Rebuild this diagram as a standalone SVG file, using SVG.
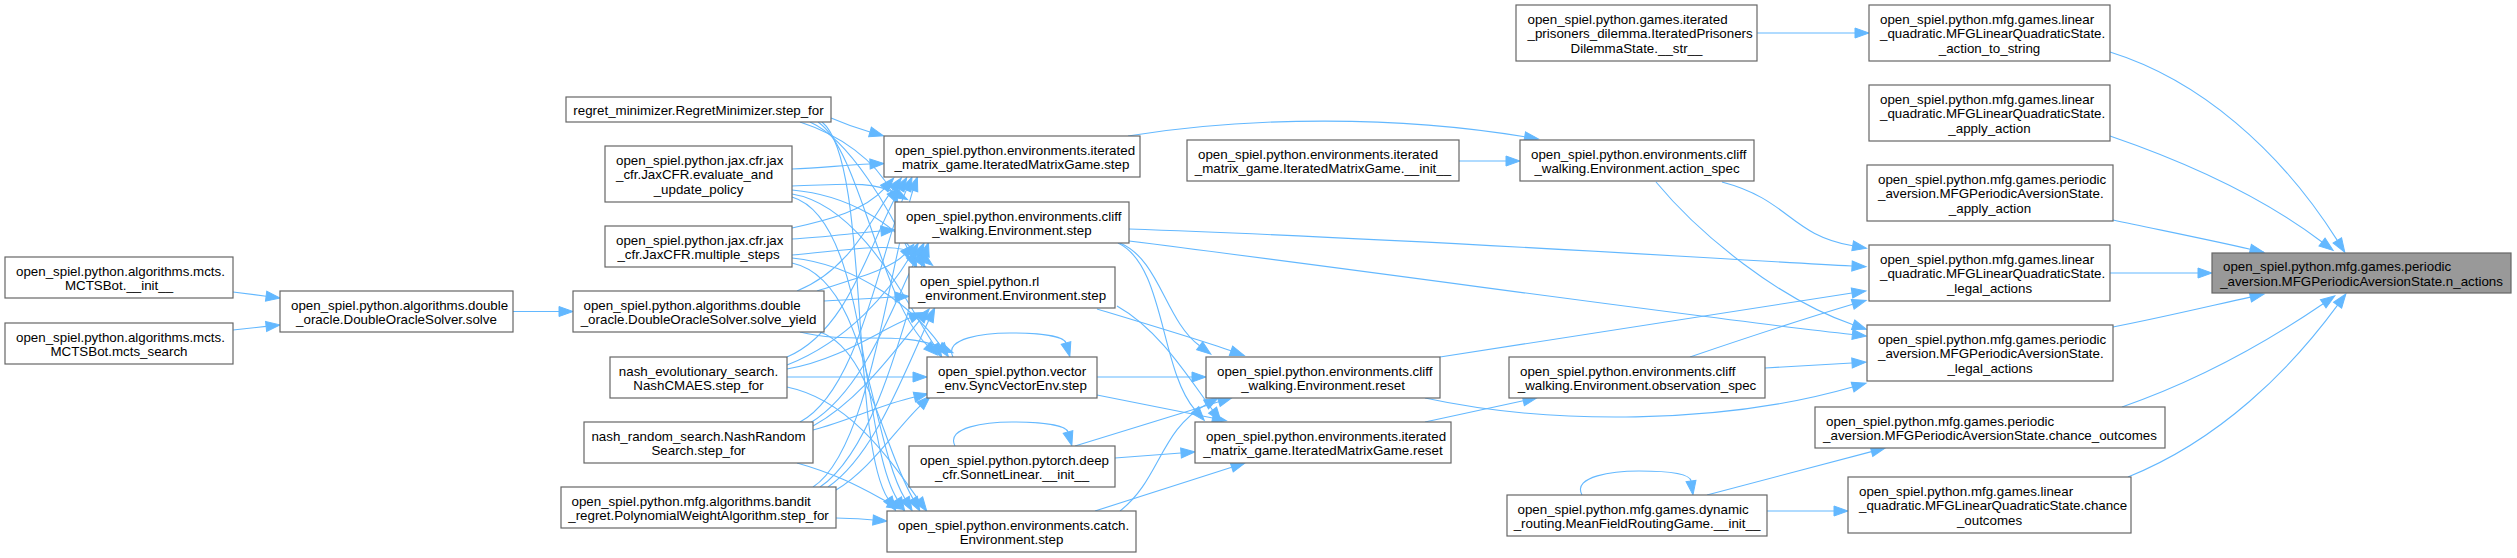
<svg xmlns="http://www.w3.org/2000/svg" width="2517" height="558" viewBox="0 0 2517 558">
<style>
.n rect{fill:#ffffff;stroke:#666666;stroke-width:1.2}
.n.hl rect{fill:#999999}
.n text{font-family:"Liberation Sans",Arial,Helvetica,sans-serif;font-size:13.33px;fill:#000000}
.n text.m{text-anchor:middle}
.e{fill:none;stroke:#63b8ff;stroke-width:1.1;marker-end:url(#ah)}
</style>
<defs>
<marker id="ah" markerUnits="userSpaceOnUse" markerWidth="16" markerHeight="12" refX="0" refY="5" orient="auto" overflow="visible">
<path d="M0,0 L14,5 L0,10 Z" fill="#63b8ff" stroke="#63b8ff" stroke-width="1"/>
</marker>
</defs>
<rect width="2517" height="558" fill="#ffffff"/>
<g id="edges">
<path class="e" d="M233,292 L266.1,296.2"/>
<path class="e" d="M233,330 L266.1,326.4"/>
<path class="e" d="M513,311.5 L559,311.5"/>
<!-- regret -->
<path class="e" d="M831,118 C845,124 856,128 870,132"/>
<path class="e" d="M800,122 C840,135 875,160 891.6,191.8"/>
<path class="e" d="M810,122 C850,140 890,210 911,255.8"/>
<path class="e" d="M818,122 C860,150 880,300 927.3,345.4"/>
<path class="e" d="M822,122 C870,160 850,440 888,498.8"/>
<!-- eval -->
<path class="e" d="M792,169 C820,168 845,165 870,164"/>
<path class="e" d="M792,186 C840,185 870,180 895,193"/>
<path class="e" d="M792,190 C850,195 895,225 917.3,256.4"/>
<path class="e" d="M792,194 C860,205 905,300 934.3,345.4"/>
<path class="e" d="M792,197 C870,220 860,440 897.3,499.4"/>
<!-- multi -->
<path class="e" d="M792,228 C830,220 865,210 884.3,188.6"/>
<path class="e" d="M792,239 C825,237 855,233 881,231"/>
<path class="e" d="M792,255 C850,250 900,240 921.6,256.8"/>
<path class="e" d="M792,258 C860,265 915,310 940.3,345.4"/>
<path class="e" d="M792,263 C870,280 870,440 905,498.8"/>
<!-- yield -->
<path class="e" d="M797,291 C850,270 870,220 893,189.2"/>
<path class="e" d="M817,291 C850,280 890,270 904.3,254.6"/>
<path class="e" d="M824,301 C850,300 875,298 895,297"/>
<path class="e" d="M800,332 C850,345 900,330 940.1,347.1"/>
<path class="e" d="M820,332 C870,350 880,440 913,498.8"/>
<!-- cmaes -->
<path class="e" d="M787,357 C850,330 870,240 899.7,189.5"/>
<path class="e" d="M787,365 C850,340 890,290 911,255.2"/>
<path class="e" d="M787,369 C840,360 880,330 910.2,317.8"/>
<path class="e" d="M787,377 L913,377"/>
<path class="e" d="M787,387 C850,400 890,460 918.6,499.8"/>
<!-- random -->
<path class="e" d="M800,422 C860,390 880,250 906.4,189.9"/>
<path class="e" d="M810,423 C865,390 895,300 917.7,255.5"/>
<path class="e" d="M813,426 C860,400 895,350 920.3,319.6"/>
<path class="e" d="M813,430 C850,420 880,405 914.4,397"/>
<path class="e" d="M797,463 C840,475 865,490 888.8,502.6"/>
<!-- poly -->
<path class="e" d="M813,487 C870,450 890,260 913,190.2"/>
<path class="e" d="M820,487 C875,450 905,320 924.4,255.9"/>
<path class="e" d="M828,487 C875,455 905,370 928.7,320.5"/>
<path class="e" d="M836,490 C870,470 895,430 920.2,405.8"/>
<path class="e" d="M836,518 C850,518 860,519 873,520"/>
<!-- middle -->
<path class="e" d="M1128,136 C1250,116 1400,116 1524.7,136.8"/>
<path class="e" d="M1459,161 L1506,161"/>
<path class="e" d="M1129,229 C1400,238 1700,258 1852,266"/>
<path class="e" d="M1129,241 C1400,275 1700,318 1852.4,334.5"/>
<path class="e" d="M1440,357 C1600,332 1750,308 1852,293"/>
<path class="e" d="M1425,398 C1550,425 1720,425 1852.6,387"/>
<path class="e" d="M1690,357 C1740,340 1800,320 1852.7,304.3"/>
<path class="e" d="M1765,368 L1852,363"/>
<path class="e" d="M1722,182 C1790,200 1790,235 1852.7,245.8"/>
<path class="e" d="M1656,182 C1700,235 1780,300 1853.1,324.7"/>
<path class="e" d="M1097,309 C1150,325 1200,340 1231,350.8"/>
<path class="e" d="M1117,306 C1160,330 1190,380 1212.6,410.1"/>
<path class="e" d="M1120,243 C1160,260 1165,320 1199.6,345.8"/>
<path class="e" d="M1118,243 C1165,265 1160,370 1195,409.8"/>
<path class="e" d="M1097,377 L1192,377"/>
<path class="e" d="M1097,395 L1212.6,418"/>
<path class="e" d="M1075,446 L1218.7,401.7"/>
<path class="e" d="M1115,458 L1181,453"/>
<path class="e" d="M1095,511 L1231.7,467.2"/>
<path class="e" d="M1120,511 C1160,480 1160,430 1206.1,404.4"/>
<path class="e" d="M1425,422 L1523.3,400.8"/>
<path class="e" d="M1757,33 L1855,33"/>
<path class="e" d="M1707,495 L1871.5,451.6"/>
<path class="e" d="M1767,511 L1834,511"/>
<!-- loops -->
<path class="e" d="M953,357 C943,338 985,333 1010,333 C1040,333 1064,336 1066,343"/>
<path class="e" d="M955,446 C945,427 987,422 1012,422 C1042,422 1066,425 1068,432"/>
<path class="e" d="M1582,495 C1572,476 1614,471 1639,471 C1669,471 1690,474 1691,481"/>
<!-- to n_actions -->
<path class="e" d="M2110,52 C2200,80 2280,150 2337.3,240.4"/>
<path class="e" d="M2110,136 C2180,160 2260,195 2322,242"/>
<path class="e" d="M2113,220 C2160,230 2210,240 2250.3,249.2"/>
<path class="e" d="M2110,273 L2198,273"/>
<path class="e" d="M2113,327 C2160,318 2210,306 2250.4,297.1"/>
<path class="e" d="M2122,407 C2200,380 2270,340 2323.2,303.8"/>
<path class="e" d="M2128,477 C2220,440 2290,370 2337.6,305.2"/>
</g>
<g id="mcts_init" class="n"><rect x="5" y="257" width="228" height="41"/><text x="16" y="275.5">open_spiel.python.algorithms.mcts.</text><text class="m" x="119" y="290.3">MCTSBot.__init__</text></g>
<g id="mcts_search" class="n"><rect x="5" y="323" width="228" height="41"/><text x="16" y="341.5">open_spiel.python.algorithms.mcts.</text><text class="m" x="119" y="356.3">MCTSBot.mcts_search</text></g>
<g id="do_solve" class="n"><rect x="280" y="291" width="233" height="41"/><text x="291" y="309.5">open_spiel.python.algorithms.double</text><text class="m" x="396.5" y="324.3">_oracle.DoubleOracleSolver.solve</text></g>
<g id="do_yield" class="n"><rect x="573" y="291" width="251" height="41"/><text x="583.5" y="309.5">open_spiel.python.algorithms.double</text><text class="m" x="698.5" y="324.3">_oracle.DoubleOracleSolver.solve_yield</text></g>
<g id="regret" class="n"><rect x="566" y="97" width="265" height="25"/><text class="m" x="698.5" y="114.9">regret_minimizer.RegretMinimizer.step_for</text></g>
<g id="jax_eval" class="n"><rect x="605" y="146" width="187" height="56"/><text x="616" y="164.6">open_spiel.python.jax.cfr.jax</text><text x="616" y="179.4">_cfr.JaxCFR.evaluate_and</text><text class="m" x="698.5" y="194.2">_update_policy</text></g>
<g id="jax_multi" class="n"><rect x="605" y="226" width="187" height="41"/><text x="616" y="244.5">open_spiel.python.jax.cfr.jax</text><text class="m" x="698.5" y="259.3">_cfr.JaxCFR.multiple_steps</text></g>
<g id="cmaes" class="n"><rect x="610" y="357" width="177" height="41"/><text class="m" x="698.5" y="375.5">nash_evolutionary_search.</text><text class="m" x="698.5" y="390.3">NashCMAES.step_for</text></g>
<g id="nash_random" class="n"><rect x="584" y="422" width="229" height="41"/><text class="m" x="698.5" y="440.5">nash_random_search.NashRandom</text><text class="m" x="698.5" y="455.3">Search.step_for</text></g>
<g id="poly" class="n"><rect x="561" y="487" width="275" height="41"/><text x="571.5" y="505.5">open_spiel.python.mfg.algorithms.bandit</text><text class="m" x="698.5" y="520.3">_regret.PolynomialWeightAlgorithm.step_for</text></g>
<g id="img_step" class="n"><rect x="884" y="136" width="256" height="41"/><text x="895" y="154.5">open_spiel.python.environments.iterated</text><text class="m" x="1012" y="169.3">_matrix_game.IteratedMatrixGame.step</text></g>
<g id="cliff_step" class="n"><rect x="895" y="202" width="234" height="41"/><text x="906" y="220.5">open_spiel.python.environments.cliff</text><text class="m" x="1012" y="235.3">_walking.Environment.step</text></g>
<g id="rl_step" class="n"><rect x="909" y="267" width="206" height="41"/><text x="920" y="285.5">open_spiel.python.rl</text><text class="m" x="1012" y="300.3">_environment.Environment.step</text></g>
<g id="vec_step" class="n"><rect x="927" y="357" width="170" height="41"/><text x="938" y="375.5">open_spiel.python.vector</text><text class="m" x="1012" y="390.3">_env.SyncVectorEnv.step</text></g>
<g id="sonnet" class="n"><rect x="909" y="446" width="206" height="41"/><text x="920" y="464.5">open_spiel.python.pytorch.deep</text><text class="m" x="1012" y="479.3">_cfr.SonnetLinear.__init__</text></g>
<g id="catch_step" class="n"><rect x="887" y="511" width="249" height="41"/><text x="898" y="529.5">open_spiel.python.environments.catch.</text><text class="m" x="1011.5" y="544.3">Environment.step</text></g>
<g id="img_init" class="n"><rect x="1187" y="140" width="272" height="41"/><text x="1198" y="158.5">open_spiel.python.environments.iterated</text><text class="m" x="1323" y="173.3">_matrix_game.IteratedMatrixGame.__init__</text></g>
<g id="cliff_reset" class="n"><rect x="1206" y="357" width="234" height="41"/><text x="1217" y="375.5">open_spiel.python.environments.cliff</text><text class="m" x="1323" y="390.3">_walking.Environment.reset</text></g>
<g id="img_reset" class="n"><rect x="1195" y="422" width="256" height="41"/><text x="1206" y="440.5">open_spiel.python.environments.iterated</text><text class="m" x="1323" y="455.3">_matrix_game.IteratedMatrixGame.reset</text></g>
<g id="pd_str" class="n"><rect x="1516" y="5" width="241" height="56"/><text x="1527.5" y="23.6">open_spiel.python.games.iterated</text><text x="1527.5" y="38.4">_prisoners_dilemma.IteratedPrisoners</text><text class="m" x="1636.5" y="53.2">DilemmaState.__str__</text></g>
<g id="action_spec" class="n"><rect x="1520" y="140" width="234" height="41"/><text x="1531" y="158.5">open_spiel.python.environments.cliff</text><text class="m" x="1637" y="173.3">_walking.Environment.action_spec</text></g>
<g id="obs_spec" class="n"><rect x="1509" y="357" width="256" height="41"/><text x="1520" y="375.5">open_spiel.python.environments.cliff</text><text class="m" x="1637" y="390.3">_walking.Environment.observation_spec</text></g>
<g id="mfr_init" class="n"><rect x="1507" y="495" width="260" height="41"/><text x="1517.5" y="513.5">open_spiel.python.mfg.games.dynamic</text><text class="m" x="1637" y="528.3">_routing.MeanFieldRoutingGame.__init__</text></g>
<g id="lq_a2s" class="n"><rect x="1869" y="5" width="241" height="56"/><text x="1880" y="23.6">open_spiel.python.mfg.games.linear</text><text x="1880" y="38.4">_quadratic.MFGLinearQuadraticState.</text><text class="m" x="1989.5" y="53.2">_action_to_string</text></g>
<g id="lq_apply" class="n"><rect x="1869" y="85" width="241" height="56"/><text x="1880" y="103.6">open_spiel.python.mfg.games.linear</text><text x="1880" y="118.4">_quadratic.MFGLinearQuadraticState.</text><text class="m" x="1989.5" y="133.2">_apply_action</text></g>
<g id="pa_apply" class="n"><rect x="1867" y="165" width="246" height="56"/><text x="1878" y="183.6">open_spiel.python.mfg.games.periodic</text><text x="1878" y="198.4">_aversion.MFGPeriodicAversionState.</text><text class="m" x="1990" y="213.2">_apply_action</text></g>
<g id="lq_legal" class="n"><rect x="1869" y="245" width="241" height="56"/><text x="1880" y="263.6">open_spiel.python.mfg.games.linear</text><text x="1880" y="278.4">_quadratic.MFGLinearQuadraticState.</text><text class="m" x="1989.5" y="293.2">_legal_actions</text></g>
<g id="pa_legal" class="n"><rect x="1867" y="325" width="246" height="56"/><text x="1878" y="343.6">open_spiel.python.mfg.games.periodic</text><text x="1878" y="358.4">_aversion.MFGPeriodicAversionState.</text><text class="m" x="1990" y="373.2">_legal_actions</text></g>
<g id="pa_chance" class="n"><rect x="1815" y="407" width="350" height="41"/><text x="1826" y="425.5">open_spiel.python.mfg.games.periodic</text><text class="m" x="1990" y="440.3">_aversion.MFGPeriodicAversionState.chance_outcomes</text></g>
<g id="lq_chance" class="n"><rect x="1848" y="477" width="283" height="56"/><text x="1859" y="495.6">open_spiel.python.mfg.games.linear</text><text x="1859" y="510.4">_quadratic.MFGLinearQuadraticState.chance</text><text class="m" x="1989.5" y="525.2">_outcomes</text></g>
<g id="n_actions" class="n hl"><rect x="2212" y="253" width="299" height="40"/><text x="2223" y="271">open_spiel.python.mfg.games.periodic</text><text class="m" x="2361.5" y="285.8">_aversion.MFGPeriodicAversionState.n_actions</text></g>
</svg>
